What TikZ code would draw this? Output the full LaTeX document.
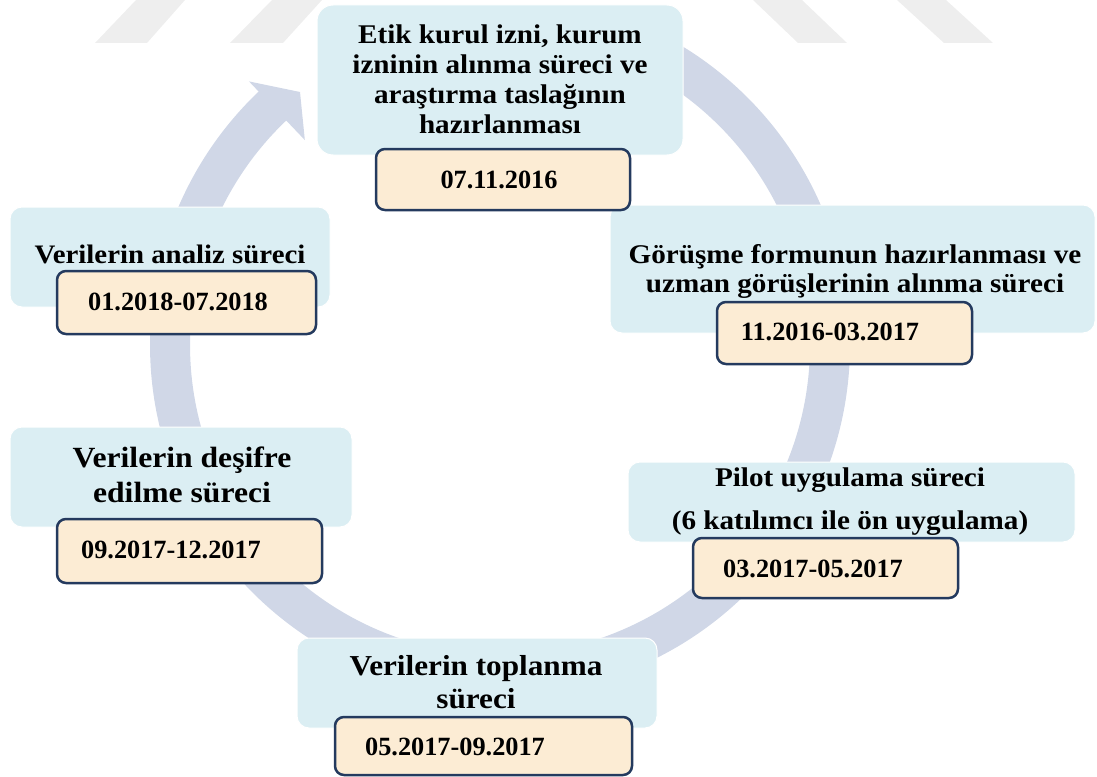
\documentclass[tikz,border=0pt]{standalone}
\usepackage{fontspec}
\setmainfont{Liberation Serif}
\newfontfamily\stagefont{Liberation Serif}[FakeStretch=1.08]
\definecolor{ringcol}{RGB}{208,215,231}
\definecolor{stagefill}{RGB}{219,238,243}
\definecolor{datefill}{RGB}{252,236,212}
\definecolor{dateline}{RGB}{36,58,94}
\definecolor{markgray}{RGB}{238,238,238}
\tikzset{
  stagebox/.style={rectangle, draw=white, line width=1pt, fill=stagefill,
    rounded corners=12pt, inner sep=0pt},
  datebox/.style={rectangle, draw=dateline, line width=2.5pt, fill=datefill,
    rounded corners=9pt, inner sep=0pt},
  stagetext/.style n args={2}{align=center, inner sep=0pt,
    font=\stagefont\bfseries\fontsize{#1}{#2}\selectfont},
  datetext/.style={anchor=base, inner sep=0pt,
    font=\bfseries\fontsize{26.3}{30}\selectfont},
}
\begin{document}
\begin{tikzpicture}[x=1pt,y=-1pt]
\useasboundingbox (0,0) rectangle (1097,776);

% faint stripes along the top edge
\fill[markgray] (95,43) -- (147,43) -- (185,0) -- (136,0) -- cycle;
\fill[markgray] (230,43) -- (283,43) -- (322,0) -- (272,0) -- cycle;
\fill[markgray] (798,43) -- (847,43) -- (802,0) -- (753,0) -- cycle;
\fill[markgray] (944,43) -- (993,43) -- (946,0) -- (897,0) -- cycle;

% circular process arrow
\draw[ringcol, line width=40pt]
  plot[domain=-70:227.2, samples=160, smooth] ({500+330*cos(\x)},{345+330*sin(\x)});
\fill[ringcol] ({500+364*cos(226.4)},{345+364*sin(226.4)}) -- (300,92)
  -- ({500+283*cos(226.4)},{345+283*sin(226.4)}) -- cycle;

% stage boxes
\node[stagebox, minimum width=366pt, minimum height=150pt, rounded corners=16pt] (b1) at (500,80) {};
\node[stagebox, minimum width=485pt, minimum height=128pt] (b2) at (852.5,269) {};
\node[stagebox, minimum width=320pt, minimum height=100pt] (b3) at (170,257) {};
\node[stagebox, minimum width=342pt, minimum height=100pt] (b4) at (181,477) {};
\node[stagebox, minimum width=447pt, minimum height=80pt] (b5) at (851.5,502) {};
\node[stagebox, minimum width=360pt, minimum height=90pt] (b6) at (477,683) {};

% stage texts
\node[stagetext={27}{30}] (t1) at (500,78.8)
  {Etik kurul izni, kurum\\izninin alınma süreci ve\\araştırma taslağının\\hazırlanması};
\node[stagetext={27}{29}] (t2) at (855,271)
  {Görüşme formunun hazırlanması ve\\uzman görüşlerinin alınma süreci};
\node[stagetext={26.7}{30}] (t3) at (170,254) {Verilerin analiz süreci};
\node[stagetext={29.3}{35}] (t4) at (182,474.5) {Verilerin deşifre\\edilme süreci};
\node[stagetext={27}{43}] (t5) at (850,502)
  {Pilot uygulama süreci\\(6 katılımcı ile ön uygulama)};
\node[stagetext={28.9}{33}] (t6) at (476,681.7) {Verilerin toplanma\\süreci};

% date boxes
\node[datebox, minimum width=254pt, minimum height=61pt] (d1) at (503,179.5) {};
\node[datebox, minimum width=255pt, minimum height=62pt] (d2) at (844.5,333) {};
\node[datebox, minimum width=259pt, minimum height=63pt] (d3) at (186.5,302.5) {};
\node[datebox, minimum width=265pt, minimum height=64pt] (d4) at (189.5,551) {};
\node[datebox, minimum width=265pt, minimum height=60pt] (d5) at (825.5,568) {};
\node[datebox, minimum width=297pt, minimum height=58pt] (d6) at (483.5,746) {};

% date texts
\node[datetext] (dt1) at (499,188) {07.11.2016};
\node[datetext] (dt2) at (830,340) {11.2016-03.2017};
\node[datetext] (dt3) at (178,310) {01.2018-07.2018};
\node[datetext] (dt4) at (171,558) {09.2017-12.2017};
\node[datetext] (dt5) at (813,577) {03.2017-05.2017};
\node[datetext] (dt6) at (455,755) {05.2017-09.2017};
\end{tikzpicture}
\end{document}
